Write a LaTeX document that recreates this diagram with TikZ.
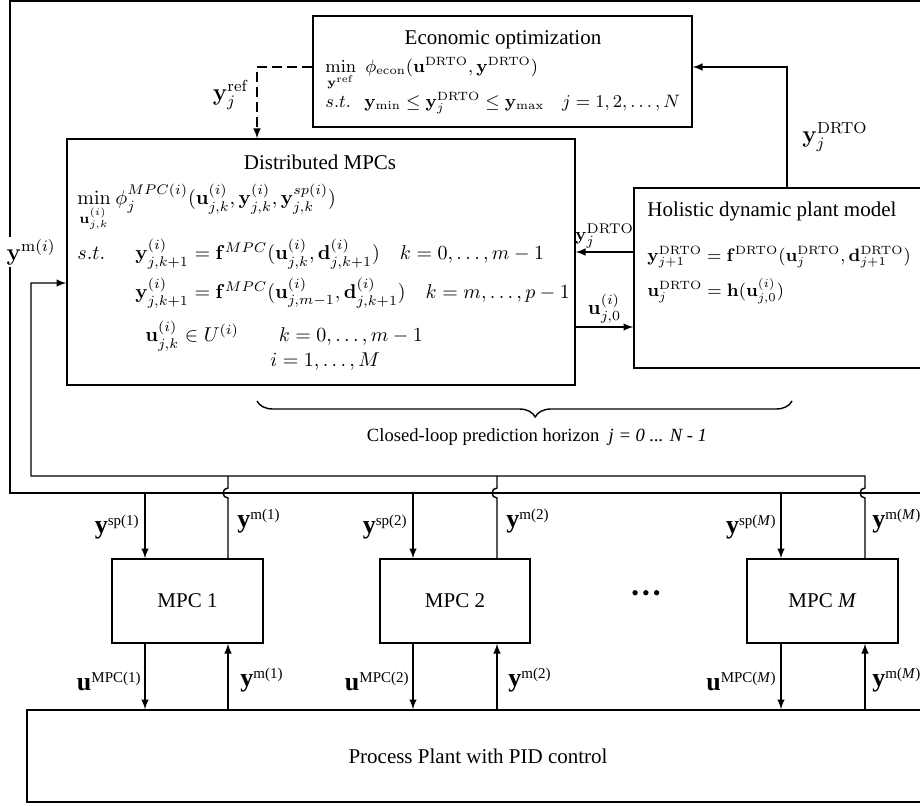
\documentclass[tikz,border=0pt]{standalone}
\usepackage{amsmath}
\usepackage[no-math]{fontspec}
\setmainfont{Liberation Serif}
\usetikzlibrary{decorations.pathreplacing}
\newcommand{\sig}[2]{{\fontsize{13}{13}\selectfont\bfseries #1}\raisebox{4pt}{\fontsize{7.5}{8}\selectfont #2}}
\tikzset{
  block/.style={draw, rectangle, line width=0.7pt, inner sep=0pt, font=\fontsize{10.5}{12}\selectfont},
  heading/.style={inner sep=0pt, anchor=base, font=\fontsize{10.5}{12}\selectfont},
  eqn/.style={inner sep=0pt, anchor=base west},
  eqs/.style={eqn, font=\small},
  lbl/.style={inner sep=0pt, anchor=base west},
  lblr/.style={inner sep=0pt, anchor=base east},
  wire/.style={line width=0.7pt},
}
\begin{document}
\begin{tikzpicture}[x=0.5pt, y=-0.5pt, >=latex]
\useasboundingbox (0,0) rectangle (920,806);
\node[block, minimum width=465pt, minimum height=246pt] (drto) at (475,247) {};
\node[block, minimum width=189.5pt, minimum height=55.5pt] (econ) at (502.5,71.5) {};
\node[block, minimum width=254pt, minimum height=123pt] (dmpc) at (321,262) {};
\node[block, minimum width=150.5pt, minimum height=90pt] (holistic) at (784.5,278) {};
\node[block, minimum width=75.5pt, minimum height=42pt] (mpc1) at (187.5,601) {MPC 1};
\node[block, minimum width=75pt, minimum height=42pt] (mpc2) at (455,601) {MPC 2};
\node[block, minimum width=75.5pt, minimum height=42pt] (mpcM) at (822.5,601) {MPC \textit{M}};
\node[block, minimum width=451pt, minimum height=46pt] (plant) at (478,756) {Process Plant with PID control};
\node[font=\fontsize{11}{12}\selectfont] (dots) at (646,596) {\textbullet\hspace{1.5pt}\textbullet\hspace{1.5pt}\textbullet};

\node[heading] (econtitle) at (503,45) {Economic optimization};
\node[eqs] (emin) at (325,73) {$\min\limits_{\mathbf{y}^{\mathrm{ref}}}$};
\node[eqs] (eobj) at (365,73) {$\phi_{\mathrm{econ}}(\mathbf{u}^{\mathrm{DRTO}},\mathbf{y}^{\mathrm{DRTO}})$};
\node[eqs] (est) at (325,108) {$s.t.$};
\node[eqs] (ecstr) at (364,108) {$\mathbf{y}_{\min}\le\mathbf{y}_j^{\mathrm{DRTO}}\le\mathbf{y}_{\max}\quad j=1,2,\dots,N$};

\node[heading] (dmpctitle) at (320,170) {Distributed MPCs};
\node[eqn] (dmin) at (77,205) {$\min\limits_{\mathbf{u}_{j,k}^{(i)}}$};
\node[eqn] (dobj) at (115,205) {$\phi_j^{MPC(i)}(\mathbf{u}_{j,k}^{(i)},\mathbf{y}_{j,k}^{(i)},\mathbf{y}_{j,k}^{sp(i)})$};
\node[eqn] (dst) at (77,260) {$s.t.$};
\node[eqn] (dc1) at (135,260) {$\mathbf{y}_{j,k+1}^{(i)}=\mathbf{f}^{MPC}(\mathbf{u}_{j,k}^{(i)},\mathbf{d}_{j,k+1}^{(i)})\quad k=0,\dots,m-1$};
\node[eqn] (dc2) at (135,299) {$\mathbf{y}_{j,k+1}^{(i)}=\mathbf{f}^{MPC}(\mathbf{u}_{j,m-1}^{(i)},\mathbf{d}_{j,k+1}^{(i)})\quad k=m,\dots,p-1$};
\node[eqn] (dc3) at (145,342) {$\mathbf{u}_{j,k}^{(i)}\in U^{(i)}\qquad k=0,\dots,m-1$};
\node[eqn] (dc4) at (270,367) {$i=1,\dots,M$};

\node[heading, anchor=base west] (holtitle) at (647,217) {Holistic dynamic plant model};
\node[eqs] (heq1) at (647,262) {$\mathbf{y}_{j+1}^{\mathrm{DRTO}}=\mathbf{f}^{\mathrm{DRTO}}(\mathbf{u}_j^{\mathrm{DRTO}},\mathbf{d}_{j+1}^{\mathrm{DRTO}})$};
\node[eqs] (heq2) at (647,297) {$\mathbf{u}_j^{\mathrm{DRTO}}=\mathbf{h}(\mathbf{u}_{j,0}^{(i)})$};

\coordinate (refcorner) at (257,67);
\coordinate (drtocorner) at (787,67);
\coordinate (ylink) at (604,252);
\coordinate (ulink) at (604,327);
\coordinate (fbturn) at (31,283);
\coordinate (s1) at (145,493);
\coordinate (m1) at (228,476);
\coordinate (s2) at (413,493);
\coordinate (m2) at (497,476);
\coordinate (sM) at (781,493);
\coordinate (mM) at (865,476);

\draw[wire, ->, dash pattern=on 5pt off 2.5pt] (econ.west |- refcorner) -- (refcorner) -- (refcorner |- dmpc.north);
\node[font=\large] (yref) at (231,95) {$\mathbf{y}_j^{\mathrm{ref}}$};
\draw[wire, ->] (holistic.north -| drtocorner) -- (drtocorner) -- (drtocorner -| econ.east);
\node[font=\large] (ydrtoup) at (835,137) {$\mathbf{y}_j^{\mathrm{DRTO}}$};
\draw[wire, ->] (holistic.west |- ylink) -- node[above, inner sep=1.5pt, font=\fontsize{9.5}{11}\selectfont] (ydrto) {$\mathbf{y}_j^{\mathrm{DRTO}}$} (dmpc.east |- ylink);
\draw[wire, ->] (dmpc.east |- ulink) -- node[above, inner sep=1.5pt] (ujzero) {$\mathbf{u}_{j,0}^{(i)}$} (holistic.west |- ulink);

\draw[wire, ->] (mM |- mpcM.north) -- (865,498) arc[start angle=270, end angle=90, radius=2.5pt] -- (mM) -- (fbturn |- mM) -- (fbturn) -- (fbturn -| dmpc.west);
\node[fill=white, inner sep=1pt, font=\large] (ymi) at (31,252) {$\mathbf{y}^{\mathrm{m}(i)}$};
\draw[wire] (m1) -- (228,488) arc[start angle=90, end angle=270, radius=2.5pt] -- (m1 |- mpc1.north);
\draw[wire] (m2) -- (497,488) arc[start angle=90, end angle=270, radius=2.5pt] -- (m2 |- mpc2.north);

\draw[wire, ->] (s1) -- (s1 |- mpc1.north);
\draw[wire, ->] (s2) -- (s2 |- mpc2.north);
\draw[wire, ->] (sM) -- (sM |- mpcM.north);
\draw[wire, ->] (s1 |- mpc1.south) -- (s1 |- plant.north);
\draw[wire, ->] (s2 |- mpc2.south) -- (s2 |- plant.north);
\draw[wire, ->] (sM |- mpcM.south) -- (sM |- plant.north);
\draw[wire, ->] (m1 |- plant.north) -- (m1 |- mpc1.south);
\draw[wire, ->] (m2 |- plant.north) -- (m2 |- mpc2.south);
\draw[wire, ->] (mM |- plant.north) -- (mM |- mpcM.south);

\node[lblr] (sp1) at (139,533) {\sig{y}{sp(1)}};
\node[lbl] (ymtop1) at (237,527) {\sig{y}{m(1)}};
\node[lblr] (umpc1) at (141,690) {\sig{u}{MPC(1)}};
\node[lbl] (ymbot1) at (240,686) {\sig{y}{m(1)}};
\node[lblr] (sp2) at (407,533) {\sig{y}{sp(2)}};
\node[lbl] (ymtop2) at (506,527) {\sig{y}{m(2)}};
\node[lblr] (umpc2) at (409,690) {\sig{u}{MPC(2)}};
\node[lbl] (ymbot2) at (508,686) {\sig{y}{m(2)}};
\node[lblr] (spM) at (776,533) {\sig{y}{sp(\textit{M})}};
\node[lbl] (ymtopM) at (872,527) {\sig{y}{m(\textit{M})}};
\node[lblr] (umpcM) at (776,690) {\sig{u}{MPC(\textit{M})}};
\node[lbl] (ymbotM) at (872,686) {\sig{y}{m(\textit{M})}};

\draw[wire, decorate, decoration={brace, mirror, amplitude=8pt, aspect=0.52}] (257,401) -- (792,401);
\node[anchor=base, font=\fontsize{9.3}{11}\selectfont, inner sep=0pt] (horizon) at (537,442) {Closed-loop prediction horizon~ \textit{j = 0 ... N - 1}};
\end{tikzpicture}
\end{document}
